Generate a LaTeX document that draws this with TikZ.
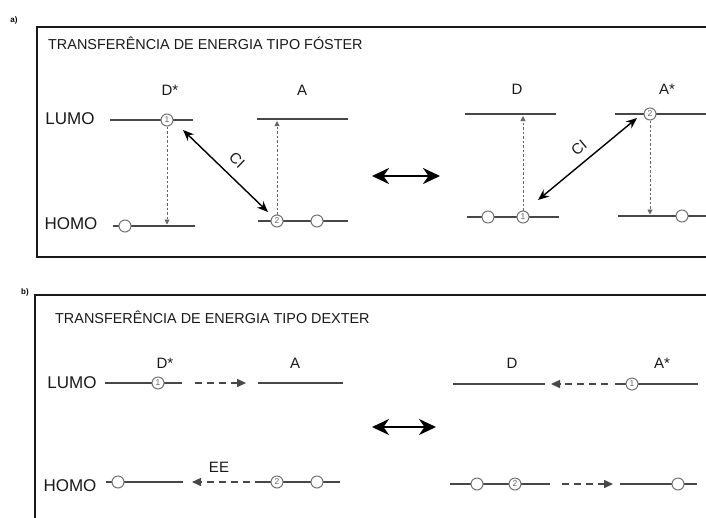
\documentclass[tikz,border=0pt]{standalone}
\usepackage{fontspec}
\setmainfont{Liberation Sans}
\usetikzlibrary{arrows.meta}
\begin{document}
\begin{tikzpicture}[x=1pt,y=-1pt,
  panelbox/.style={line width=1.6pt, draw=black!90},
  lvl/.style={line width=1.7pt, draw=black!72},
  orb/.style={circle, draw=black!55, fill=white, line width=1pt, minimum size=12pt,
              inner sep=0pt, font=\fontsize{8.5}{8.5}\selectfont, text=black!60},
  lvltext/.style={font=\fontsize{17}{17}\selectfont, text=black!90, inner sep=0pt},
  mol/.style={font=\fontsize{15}{15}\selectfont, text=black!90, inner sep=0pt},
  ttl/.style={font=\fontsize{14.4}{14}\selectfont, anchor=west, inner sep=0pt, text=black!90},
  tag/.style={font=\bfseries\fontsize{8}{8}\selectfont, inner sep=0pt},
  decay/.style={draw=black!60, line width=0.9pt, dash pattern=on 2.5pt off 2pt,
                -{Triangle[length=5pt,width=5pt]}},
  ci/.style={draw=black, line width=1.4pt,
             {Stealth[length=11pt,width=9pt]}-{Stealth[length=11pt,width=9pt]}},
  exch/.style={draw=black, line width=2.8pt,
               {Stealth[length=17pt,width=16pt]}-{Stealth[length=17pt,width=16pt]}},
  hop/.style={draw=black!72, line width=1.5pt, dash pattern=on 7pt off 5pt,
              -{Triangle[length=9pt,width=8pt]}},
  cilbl/.style={font=\fontsize{15}{15}\selectfont, text=black!90, inner sep=0pt},
]
\useasboundingbox (0,0) rectangle (706,517);
\clip (0,0) rectangle (706,517);

% ---------------- panel a: Förster ----------------
\node[tag] (taga) at (14,20) {a)};
\draw[panelbox] (37,27) rectangle (720,257);
\node[ttl] (titlea) at (48,43) {TRANSFERÊNCIA DE ENERGIA TIPO FÓSTER};

\node[lvltext] (lumoa) at (70,119) {LUMO};
\node[lvltext] (homoa) at (71,224) {HOMO};

\node[mol] (dsa) at (170,90) {D*};
\node[mol] (aa)  at (302,90) {A};
\node[mol] (da)  at (517,89) {D};
\node[mol] (asa) at (667,89) {A*};

% D* levels
\draw[lvl] (110,120) -- (193,120);
\draw[lvl] (113,226) -- (195,226);
\node[orb] (dsa1) at (167,120) {1};
\node[orb] (dsah) at (125,226) {};
\coordinate (dsaend) at (167,224.5);
\draw[decay] (dsa1.south) -- (dsaend);

% A levels
\draw[lvl] (257,119) -- (348,119);
\draw[lvl] (258,221) -- (348,221);
\node[orb] (aa2) at (277,221) {2};
\node[orb] (aah) at (317,221) {};
\coordinate (aaend) at (277,121);
\draw[decay] (aa2.north) -- (aaend);

% Coulomb interaction, left
\coordinate (cil1) at (183,130);
\coordinate (cil2) at (268,212);
\draw[ci] (cil1) -- (cil2);
\node[cilbl, rotate=-44] (cil) at (237,160) {CI};

% equivalence arrow
\coordinate (eqa1) at (372,176);
\coordinate (eqa2) at (440,176);
\draw[exch] (eqa1) -- (eqa2);

% D levels
\draw[lvl] (465,114) -- (556,114);
\draw[lvl] (467,217) -- (559,217);
\node[orb] (dah) at (488,217) {};
\node[orb] (da1) at (523,217) {1};
\coordinate (daend) at (523,116);
\draw[decay] (da1.north) -- (daend);

% A* levels
\draw[lvl] (615,114) -- (720,114);
\draw[lvl] (618,216) -- (720,216);
\node[orb] (asa2) at (650,114) {2};
\node[orb] (asah) at (682,216) {};
\coordinate (asaend) at (650,214.5);
\draw[decay] (asa2.south) -- (asaend);

% Coulomb interaction, right
\coordinate (cir1) at (538,200);
\coordinate (cir2) at (637,118);
\draw[ci] (cir1) -- (cir2);
\node[cilbl, rotate=40] (cir) at (579,148) {CI};

% ---------------- panel b: Dexter ----------------
\node[tag] (tagb) at (25,292) {b)};
\draw[panelbox] (720,295) -- (35,295) -- (35,530);
\node[ttl] (titleb) at (55,317) {TRANSFERÊNCIA DE ENERGIA TIPO DEXTER};

\node[lvltext] (lumob) at (72,383) {LUMO};
\node[lvltext] (homob) at (70,486) {HOMO};

\node[mol] (dsb) at (165,363) {D*};
\node[mol] (ab)  at (295,363) {A};
\node[mol] (db)  at (512,363) {D};
\node[mol] (asb) at (662,363) {A*};

% D* levels
\draw[lvl] (105,383) -- (182,383);
\node[orb] (dsb1) at (158,383) {1};
\draw[lvl] (106,482) -- (183,482);
\node[orb] (dsbh) at (118,482) {};

% A levels
\draw[lvl] (258,383) -- (343,383);
\draw[lvl] (255,482) -- (340,482);
\node[orb] (ab2) at (277,482) {2};
\node[orb] (abh) at (317,482) {};

% electron exchange, left
\coordinate (hl1) at (195,383);
\coordinate (hl2) at (246,383);
\draw[hop] (hl1) -- (hl2);
\coordinate (hh1) at (250,482);
\coordinate (hh2) at (192,482);
\draw[hop] (hh1) -- (hh2);
\node[mol] (ee) at (219,467) {EE};

% equivalence arrow
\coordinate (eqb1) at (372,427);
\coordinate (eqb2) at (436,427);
\draw[exch] (eqb1) -- (eqb2);

% D levels
\draw[lvl] (453,384) -- (545,384);
\draw[lvl] (450,484) -- (550,484);
\node[orb] (dbh) at (477,484) {};
\node[orb] (db2) at (515,484) {2};

% A* levels
\draw[lvl] (615,384) -- (698,384);
\node[orb] (asb1) at (632,384) {1};
\draw[lvl] (620,484) -- (697,484);
\node[orb] (asbh) at (678,484) {};

% electron exchange, right
\coordinate (hr1) at (608,384);
\coordinate (hr2) at (551,384);
\draw[hop] (hr1) -- (hr2);
\coordinate (hrh1) at (562,484);
\coordinate (hrh2) at (613,484);
\draw[hop] (hrh1) -- (hrh2);
\end{tikzpicture}
\end{document}
